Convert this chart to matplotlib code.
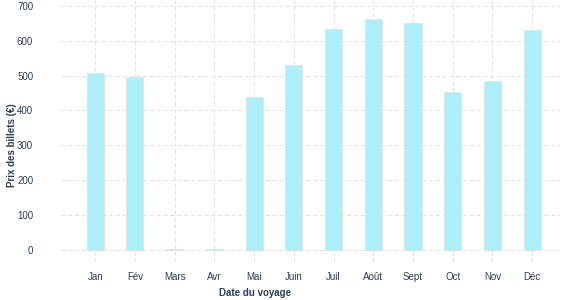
import matplotlib.pyplot as plt
import numpy as np

mois = ['Jan', 'Fév', 'Mars', 'Avr', 'Mai', 'Juin', 'Juil', 'Août', 'Sept', 'Oct', 'Nov', 'Déc']
prix = [508, 496, 2, 2, 439, 531, 634, 663, 651, 453, 485, 631]
yticks = [0, 100, 200, 300, 400, 500, 600, 700]

texte = '#2b3a55'
plt.rcParams['font.family'] = ['Liberation Sans', 'DejaVu Sans']

fig = plt.figure(figsize=(5.77, 3.0), dpi=100)
ax = fig.add_axes([61/577, 1 - 262/300, (560-61)/577, 262/300])

x = np.arange(len(mois))
ax.bar(x, prix, width=0.43, color='#aeeef8', edgecolor='#dcdcdc', linewidth=0.4, zorder=2)

ax.set_xlim(-0.86, 11.7)
ax.set_ylim(-35, 717)
ax.set_xticks(x)
ax.set_xticklabels(mois, fontsize=7, color=texte)
ax.set_yticks(yticks)
ax.set_yticklabels([str(v) for v in yticks], fontsize=7, color=texte)
ax.tick_params(axis='both', length=0)
ax.tick_params(axis='y', pad=20)
ax.tick_params(axis='x', pad=7)

ax.grid(True, color='#e0e0e0', linestyle=(0, (4, 3)), linewidth=0.7, zorder=0)
ax.set_axisbelow(True)
for s in ax.spines.values():
    s.set_visible(False)

fig.text(255/577, 1 - 293/300, 'Date du voyage', fontsize=7, fontweight='bold',
         color=texte, ha='center', va='center')
fig.text(12/577, 1 - 145/300, 'Prix des billets (€)', fontsize=7, fontweight='bold',
         color=texte, ha='center', va='center', rotation=90)

fig.savefig('out.png', dpi=100)
